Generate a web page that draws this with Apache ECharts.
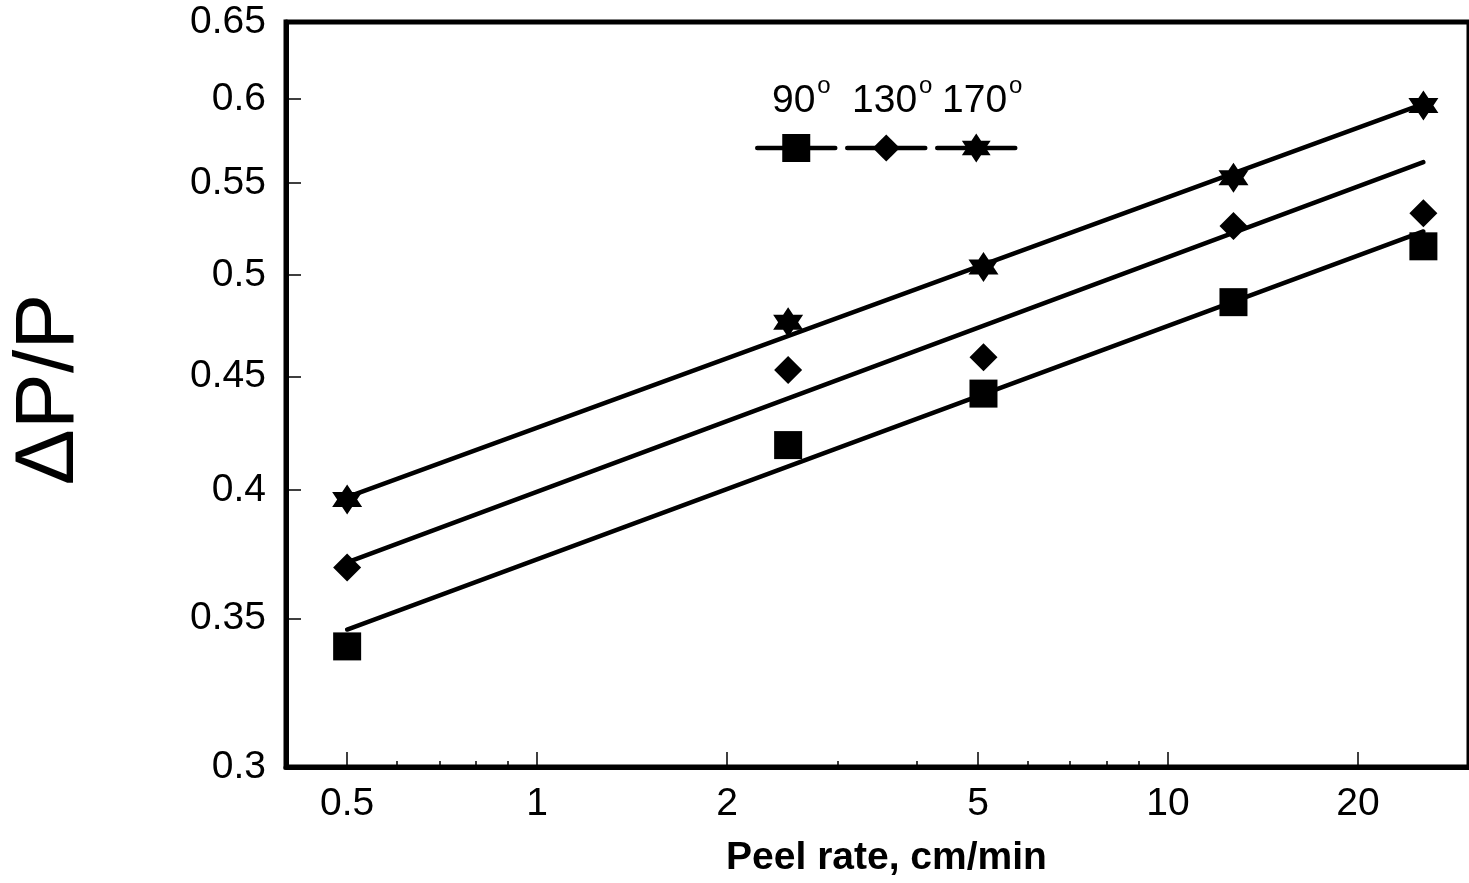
<!DOCTYPE html>
<html>
<head>
<meta charset="utf-8">
<script src="https://cdn.jsdelivr.net/npm/echarts@6/dist/echarts.min.js"></script>
<style>
  html, body { margin: 0; padding: 0; background: #fff; }
  #chart { width: 1469px; height: 883px; }
</style>
</head>
<body>
<div id="chart"></div>
<script>
// measured points
const peelRate = [0.5, 2.5, 5.1, 12.7, 25.4]
const ratio90 = [0.340, 0.419, 0.442, 0.486, 0.515]
const ratio130 = [0.369, 0.453, 0.459, 0.526, 0.533]
const ratio170 = [0.396, 0.476, 0.504, 0.553, 0.596]

// fitted lines (read at both ends)
const fitRate = [0.5, 25.4]
const fit90 = [0.346, 0.523]
const fit130 = [0.371, 0.562]
const fit170 = [0.397, 0.597]

const angleLabels = ['90', '130', '170']
const xTicks = [0.5, 1, 2, 5, 10, 20]
const xMinorTicks = [0.6, 0.7, 0.8, 0.9, 3, 4, 6, 7, 8, 9]
const yTicks = [0.3, 0.35, 0.4, 0.45, 0.5, 0.55, 0.6, 0.65]

const FONT = 'Liberation Sans, Arial, sans-serif'
const starPath = 'path://M0,-10L2.887,-5L8.66,-5L5.774,0L8.66,5L2.887,5L0,10L-2.887,5L-8.66,5L-5.774,0L-8.66,-5L-2.887,-5Z'
const symbols = ['rect', 'diamond', starPath]
const markSizes = [28, 28, 30]

const pairs = (xs, ys) => xs.map((x, i) => [x, ys[i]])
const fmt = v => String(Math.round(v * 1000) / 1000)

const chart = echarts.init(document.getElementById('chart'))

const fits = [fit90, fit130, fit170]
const points = [ratio90, ratio130, ratio170]

const series = []
fits.forEach((f, i) => {
  series.push({
    name: angleLabels[i] + '°',
    type: 'line',
    data: pairs(fitRate, f),
    symbol: symbols[i],
    showSymbol: false,
    color: '#000',
    lineStyle: { width: 4.5, color: '#000', cap: 'round' },
    z: 2
  })
})
points.forEach((p, i) => {
  series.push({
    name: angleLabels[i] + '° data',
    type: 'scatter',
    data: pairs(peelRate, p),
    symbol: symbols[i],
    symbolSize: markSizes[i],
    itemStyle: { color: '#000', opacity: 1 },
    z: 3
  })
})

// one legend block per angle so each icon keeps its own size
const legendBoxes = [
  { left: 755, itemHeight: 35 },
  { left: 845, itemHeight: 34 },
  { left: 935, itemHeight: 36 }
]
const legend = legendBoxes.map((b, i) => ({
  data: [angleLabels[i] + '°'],
  left: b.left,
  top: 148 - b.itemHeight / 2,
  padding: 0,
  itemWidth: 78,
  itemHeight: b.itemHeight,
  selectedMode: false,
  formatter: () => '',
  textStyle: { fontSize: 1 },
  lineStyle: { width: 4.5, color: '#000' },
  itemStyle: { color: '#000' }
}))

// legend captions: number plus a raised "o"
const labelPos = [772, 852, 942]
const graphic = []
angleLabels.forEach((t, i) => {
  graphic.push({
    type: 'text',
    left: labelPos[i],
    top: 82,
    style: { text: t, fontFamily: FONT, fontSize: 39, fill: '#000' }
  })
  graphic.push({
    type: 'text',
    left: labelPos[i] + t.length * 0.556 * 39 + 2,
    top: 74,
    style: { text: 'o', fontFamily: FONT, fontSize: 24, fill: '#000' }
  })
})

const option = {
  animation: false,
  backgroundColor: '#fff',
  grid: {
    left: 284,
    right: -11,
    top: 22,
    bottom: 113,
    show: true,
    borderColor: '#000',
    borderWidth: 5
  },
  legend,
  graphic,
  xAxis: [
    {
      type: 'log',
      min: 0.4,
      max: 30,
      position: 'bottom',
      name: 'Peel rate, cm/min',
      nameLocation: 'middle',
      nameGap: 72,
      nameTextStyle: { fontFamily: FONT, fontSize: 39, fontWeight: 'bold', color: '#000', padding: [0, 0, 0, 18] },
      axisLine: { onZero: false, lineStyle: { color: '#000', width: 5 } },
      axisTick: { inside: true, length: 15, customValues: xTicks, lineStyle: { color: '#000', width: 1.5 } },
      axisLabel: { customValues: xTicks, formatter: fmt, margin: 18, fontFamily: FONT, fontSize: 39, color: '#000' },
      splitLine: { show: false },
      minorTick: { show: false }
    },
    {
      // minor ticks only
      type: 'log',
      min: 0.4,
      max: 30,
      position: 'bottom',
      axisLine: { show: false, onZero: false },
      axisTick: { inside: true, length: 6, customValues: xMinorTicks, lineStyle: { color: '#000', width: 1.5 } },
      axisLabel: { show: false },
      splitLine: { show: false }
    }
  ],
  yAxis: {
    type: 'log',
    min: 0.3,
    max: 0.65,
    name: 'ΔP/P',
    nameLocation: 'middle',
    nameRotate: 90,
    nameGap: 194,
    nameTextStyle: { fontFamily: FONT, fontSize: 84, color: '#000', padding: [0, 0, 0, 10] },
    axisLine: { onZero: false, lineStyle: { color: '#000', width: 5 } },
    axisTick: { inside: true, length: 15, customValues: yTicks, lineStyle: { color: '#000', width: 1.5 } },
    axisLabel: { customValues: yTicks, formatter: fmt, margin: 20, padding: [6, 0, 0, 0], fontFamily: FONT, fontSize: 39, color: '#000' },
    splitLine: { show: false }
  },
  series
}

chart.setOption(option)
</script>
</body>
</html>
